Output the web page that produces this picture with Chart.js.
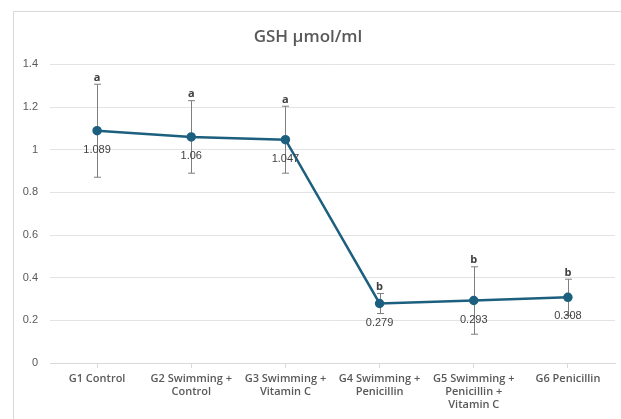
<!DOCTYPE html>
<html>
<head>
<meta charset="utf-8">
<script src="https://cdn.jsdelivr.net/npm/chart.js@4"></script>
<style>
  html, body { margin: 0; padding: 0; background: #fff; overflow: hidden; }
  #frame { position: absolute; left: 13px; top: 11px; width: 700px; height: 500px; border: 1px solid #d9d9d9; }
  #wrap { position: absolute; left: 0; top: 0; width: 621px; height: 419px; }
</style>
</head>
<body>
<div id="frame"></div>
<div id="wrap"><canvas id="gshChart" width="621" height="419"></canvas></div>
<script>
const groups = [
    'G1 Control',
    ['G2 Swimming +', 'Control'],
    ['G3 Swimming +', 'Vitamin C'],
    ['G4 Swimming +', 'Penicillin'],
    ['G5 Swimming +', 'Penicillin +', 'Vitamin C'],
    'G6 Penicillin'
];
const gshMeans = [1.089, 1.06, 1.047, 0.279, 0.293, 0.308];
const gshErrors = [0.218, 0.17, 0.157, 0.047, 0.158, 0.085];
const sigLetters = ['a', 'a', 'a', 'b', 'b', 'b'];

const lineColor = '#1d5f7e';

// error bars, letters and value labels drawn off the chart's own scales
const errorBarPlugin = {
    id: 'errorBars',
    beforeDatasetsDraw(chart) {
        const ctx = chart.ctx;
        const x = chart.scales.x, y = chart.scales.y;
        ctx.save();
        ctx.strokeStyle = '#7f7f7f';
        ctx.lineWidth = 1;
        gshMeans.forEach((v, i) => {
            const px = Math.round(x.getPixelForValue(i)) + 0.5;
            const top = y.getPixelForValue(v + gshErrors[i]);
            const bot = y.getPixelForValue(v - gshErrors[i]);
            ctx.beginPath();
            ctx.moveTo(px, top); ctx.lineTo(px, bot);
            ctx.moveTo(px - 3.5, top); ctx.lineTo(px + 3.5, top);
            ctx.moveTo(px - 3.5, bot); ctx.lineTo(px + 3.5, bot);
            ctx.stroke();
        });
        ctx.restore();
    },
    afterDatasetsDraw(chart) {
        const ctx = chart.ctx;
        const x = chart.scales.x, y = chart.scales.y;
        ctx.save();
        ctx.textAlign = 'center';
        gshMeans.forEach((v, i) => {
            const px = x.getPixelForValue(i);
            const top = y.getPixelForValue(v + gshErrors[i]);
            ctx.font = 'bold 11px "Open Sans", sans-serif';
            ctx.fillStyle = '#404040';
            ctx.textBaseline = 'bottom';
            ctx.fillText(sigLetters[i], px, top - 1);

            ctx.font = '11px "Liberation Sans", Arial, sans-serif';
            ctx.fillStyle = '#404040';
            ctx.textBaseline = 'middle';
            ctx.fillText(String(v), px, y.getPixelForValue(v) + 19);
        });
        ctx.restore();
    }
};

new Chart(document.getElementById('gshChart'), {
    type: 'line',
    data: {
        labels: groups,
        datasets: [{
            data: gshMeans,
            borderColor: lineColor,
            backgroundColor: lineColor,
            borderWidth: 2.5,
            pointRadius: 3.5,
            pointHoverRadius: 3.5,
            pointBackgroundColor: lineColor,
            pointBorderColor: lineColor,
            tension: 0
        }]
    },
    options: {
        responsive: false,
        animation: false,
        layout: { padding: { left: 0, right: 5, top: 0, bottom: 0 } },
        plugins: {
            legend: { display: false },
            tooltip: { enabled: false },
            title: {
                display: true,
                text: 'GSH μmol/ml',
                color: '#595959',
                font: { family: '"Open Sans", sans-serif', size: 17, weight: '600' },
                padding: { top: 27, bottom: 17 }
            }
        },
        scales: {
            x: {
                offset: true,
                grid: { offset: false, drawOnChartArea: false, color: '#d9d9d9', tickLength: 5 },
                border: { color: '#d9d9d9' },
                ticks: {
                    color: '#595959',
                    font: { family: '"Open Sans", sans-serif', size: 11, weight: '600' },
                    maxRotation: 0,
                    autoSkip: false,
                    padding: 4
                },
                afterFit: s => { s.height = 56; }
            },
            y: {
                min: 0,
                max: 1.4,
                ticks: {
                    stepSize: 0.2,
                    color: '#595959',
                    font: { family: '"Liberation Sans", Arial, sans-serif', size: 11 },
                    padding: 12,
                    callback: v => Math.round(v * 10) / 10
                },
                grid: { color: '#e3e3e3', drawTicks: false },
                border: { display: false },
                afterFit: s => { s.width = 50; }
            }
        }
    },
    plugins: [errorBarPlugin]
});
</script>
</body>
</html>
